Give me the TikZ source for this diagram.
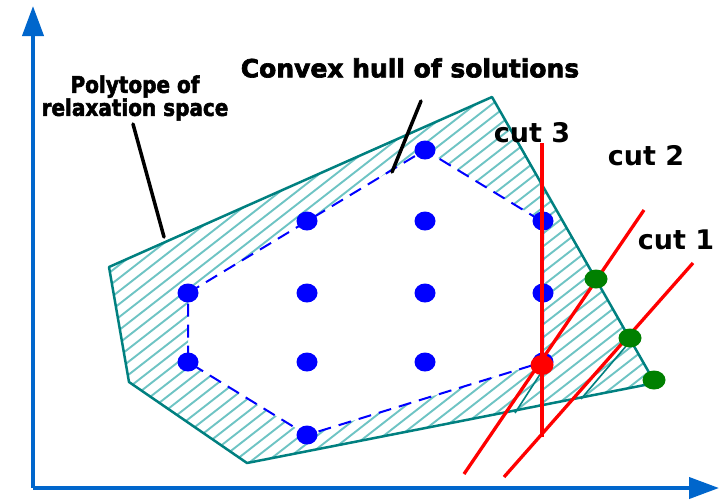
\documentclass[tikz,border=0pt]{standalone}
\usepackage{fontspec}
\setmainfont{DejaVu Sans}
\newfontfamily\heavyfont{DejaVu Sans}[BoldFeatures={FakeBold=2.6}]
\usetikzlibrary{arrows.meta,shapes.geometric}
\definecolor{axisblue}{RGB}{0,102,204}
\definecolor{polyteal}{RGB}{0,128,128}
\definecolor{hatchteal}{RGB}{110,196,196}
\definecolor{ptblue}{RGB}{0,0,255}
\definecolor{ptgreen}{RGB}{0,128,0}
\definecolor{ptred}{RGB}{255,0,0}
\tikzset{
  axisline/.style={draw=axisblue,line width=4pt,-{Triangle[length=30pt,width=21pt]}},
  hatchline/.style={draw=hatchteal,line width=1.9pt},
  polyline/.style={draw=polyteal,line width=2.5pt,line join=round},
  innerline/.style={draw=polyteal,line width=1.6pt},
  hullline/.style={draw=ptblue,line width=2pt,dash pattern=on 13pt off 8pt},
  cutline/.style={draw=ptred,line width=3.3pt},
  pointer/.style={draw=black,line width=3.5pt,line cap=round},
  bdot/.style={ellipse,fill=ptblue,minimum width=21pt,minimum height=19pt,inner sep=0pt},
  gdot/.style={ellipse,fill=ptgreen,minimum width=23pt,minimum height=19pt,inner sep=0pt},
  rdot/.style={ellipse,fill=ptred,minimum width=23pt,minimum height=20pt,inner sep=0pt},
  heavylabel/.style={font=\heavyfont\bfseries\fontsize{23}{23}\selectfont,inner sep=0pt,align=center},
  hulllabel/.style={font=\heavyfont\bfseries\fontsize{25}{25}\selectfont,inner sep=0pt},
  cutlabel/.style={font=\bfseries\fontsize{27}{27}\selectfont,inner sep=0pt}
}
\begin{document}
\begin{tikzpicture}[x=1pt,y=-1pt]
\useasboundingbox (0,0) rectangle (725,499);
\fill[white] (0,0) rectangle (725,499);
% hatching between polytope and convex hull
\begin{scope}[even odd rule]
\clip (109,267) -- (492,97) -- (655,383) -- (247,463) -- (129,382) -- cycle
  (188,293) -- (425,150) -- (543,222) -- (543,362) -- (307,435) -- (188,362) -- cycle;
\foreach \c in {150,163,...,1060} {
  \draw[hatchline] ({90},{\c-70.2}) -- ({680},{\c-530.4});
}
\end{scope}
% polytope
\draw[polyline] (109,267) -- (492,97) -- (655,383) -- (247,463) -- (129,382) -- cycle;
\draw[innerline] (548,362) -- (515,413);
\draw[innerline] (627,345) -- (581,399);
% convex hull
\draw[hullline] (188,293) -- (425,150) -- (543,222) -- (543,362) -- (307,435) -- (188,362) -- cycle;
% integer points
\node[bdot] (p1) at (425,150) {};
\node[bdot] (p2) at (307,221) {};
\node[bdot] (p3) at (425,221) {};
\node[bdot] (p4) at (543,221) {};
\node[bdot] (p5) at (188,293) {};
\node[bdot] (p6) at (307,293) {};
\node[bdot] (p7) at (425,293) {};
\node[bdot] (p8) at (543,293) {};
\node[bdot] (p9) at (188,362) {};
\node[bdot] (p10) at (307,362) {};
\node[bdot] (p11) at (425,362) {};
\node[bdot] (p12) at (543,362) {};
\node[bdot] (p13) at (307,435) {};
% axes
\coordinate (origin) at (33,488);
\coordinate (ytip) at (33,6);
\coordinate (xtip) at (719,488);
\draw[axisline] (origin) -- (ytip);
\draw[axisline] (origin) -- (xtip);
% cuts
\coordinate (c3a) at (542,143);
\coordinate (c3b) at (542,437);
\coordinate (c2a) at (644,210);
\coordinate (c2b) at (464,474);
\coordinate (c1a) at (693,263);
\coordinate (c1b) at (504,477);
\draw[cutline] (c3a) -- (c3b);
\draw[cutline] (c2a) -- (c2b);
\draw[cutline] (c1a) -- (c1b);
\node[rdot] (r1) at (542,365) {};
\node[gdot] (g1) at (596,279) {};
\node[gdot] (g2) at (630,338) {};
\node[gdot] (g3) at (654,380) {};
% labels
\node[heavylabel] (lpoly) at (135,98) {\scalebox{0.87}[1]{Polytope of}\\[0pt]\scalebox{0.87}[1]{relaxation space}};
\node[hulllabel] (lhull) at (410,68) {Convex hull of solutions};
\node[cutlabel] (lc3) at (532,133) {cut 3};
\node[cutlabel] (lc2) at (646,156) {cut 2};
\node[cutlabel] (lc1) at (676,240) {cut 1};
% pointers
\coordinate (pp1) at (133,124);
\coordinate (pp2) at (164,237);
\coordinate (ph1) at (421,101);
\coordinate (ph2) at (392,172);
\draw[pointer] (pp1) -- (pp2);
\draw[pointer] (ph1) -- (ph2);
\end{tikzpicture}
\end{document}
